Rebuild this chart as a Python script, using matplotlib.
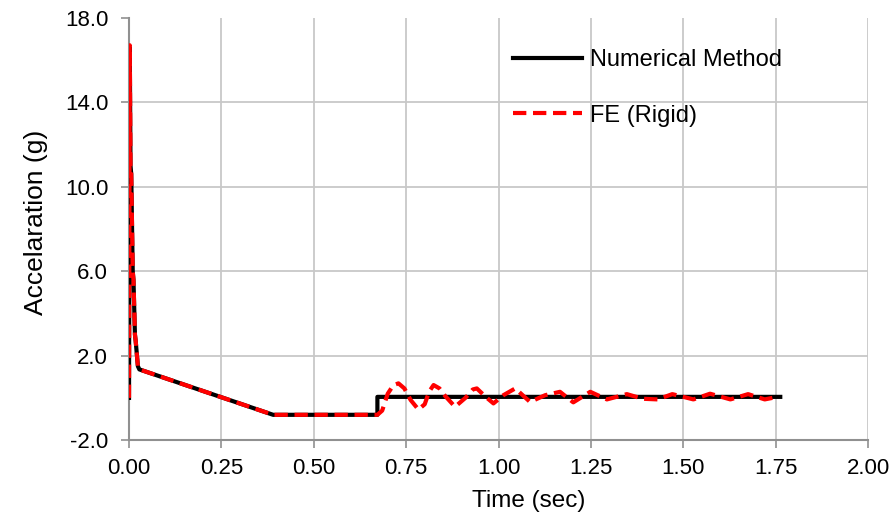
import matplotlib.pyplot as plt

plt.rcParams['font.family'] = ['Liberation Sans', 'DejaVu Sans']

# Numerical method (time in sec, acceleration in g)
num_t = [0.0, 0.002, 0.004, 0.006, 0.010, 0.012, 0.016, 0.018, 0.024, 0.028,
         0.39, 0.672, 0.672, 1.762]
num_a = [0.0, 16.6, 11.0, 10.6, 6.0, 5.6, 3.0, 2.7, 1.5, 1.35,
         -0.8, -0.8, 0.05, 0.05]

# FE (Rigid)
fe_t = [0.0, 0.002, 0.004, 0.006, 0.010, 0.012, 0.016, 0.018, 0.024, 0.028,
        0.39, 0.672, 0.685, 0.70, 0.715, 0.729, 0.745, 0.762, 0.783, 0.80,
        0.812, 0.824, 0.84, 0.855, 0.882, 0.91, 0.93, 0.941, 0.965, 0.986,
        1.013, 1.045, 1.085, 1.126, 1.166, 1.202, 1.248, 1.293, 1.347, 1.39,
        1.43, 1.47, 1.527, 1.572, 1.627, 1.675, 1.72, 1.755]
fe_a = [0.0, 16.7, 11.0, 10.6, 6.0, 5.6, 3.0, 2.7, 1.5, 1.35,
        -0.8, -0.8, -0.6, 0.2, 0.6, 0.69, 0.45, -0.1, -0.55, -0.3,
        0.3, 0.61, 0.45, 0.1, -0.42, 0.0, 0.4, 0.45, 0.05, -0.26,
        0.13, 0.45, -0.19, 0.13, 0.29, -0.21, 0.29, -0.07, 0.18, -0.04,
        -0.07, 0.18, -0.07, 0.2, -0.07, 0.18, -0.07, 0.05]

x_ticks = [0.0, 0.25, 0.5, 0.75, 1.0, 1.25, 1.5, 1.75, 2.0]
y_ticks = [-2.0, 2.0, 6.0, 10.0, 14.0, 18.0]

fig = plt.figure(figsize=(8.96, 5.24), dpi=100)
ax = fig.add_axes([0.144, 0.160, 0.825, 0.806])

ax.plot(num_t, num_a, color='black', lw=3, label='Numerical Method', zorder=3)
ax.plot(fe_t, fe_a, color='red', lw=3, dashes=(3.2, 1.6), label='FE (Rigid)', zorder=4)

ax.set_xlim(0, 2.0)
ax.set_ylim(-2.0, 18.0)
ax.set_xticks(x_ticks)
ax.set_yticks(y_ticks)
ax.set_xticklabels(['%.2f' % v for v in x_ticks])
ax.set_yticklabels(['%.1f' % v for v in y_ticks])
ax.tick_params(direction='out', length=6, width=1.2, color='#909090', labelsize=16)
ax.tick_params(axis='y', pad=9)
ax.tick_params(axis='x', pad=7)

ax.grid(True, color='#c8c8c8', lw=1.3)
ax.set_axisbelow(True)
ax.yaxis.get_gridlines()[-1].set_visible(False)
for s in ['top', 'right']:
    ax.spines[s].set_visible(False)
for s in ['left', 'bottom']:
    ax.spines[s].set_color('#909090')
    ax.spines[s].set_linewidth(1.5)

ax.set_xlabel('Time (sec)', fontsize=17.5, labelpad=8)
ax.xaxis.label.set_x(0.541)  # label sits a bit right of centre in the original
ax.set_ylabel('Accelaration (g)', fontsize=19, labelpad=12)
ax.yaxis.label.set_y(0.515)

ax.legend(loc='upper left', bbox_to_anchor=(0.5196, 0.925), frameon=False, fontsize=17,
          handlelength=2.9, handletextpad=0.35, labelspacing=1.4,
          borderpad=0, borderaxespad=0)

fig.savefig('out.png', dpi=100)
